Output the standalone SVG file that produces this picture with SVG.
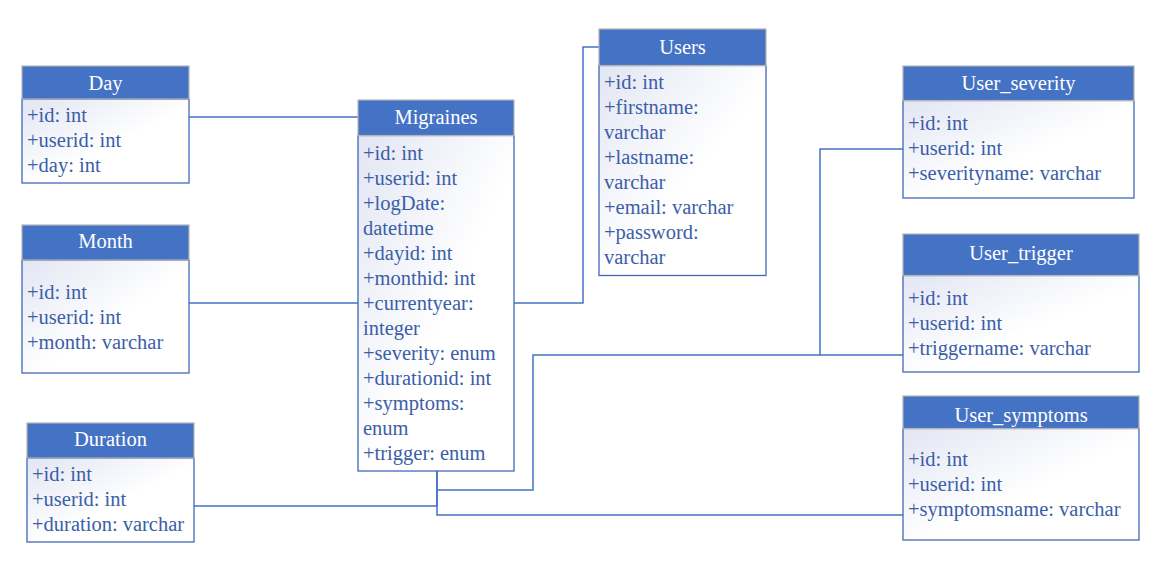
<svg xmlns="http://www.w3.org/2000/svg" width="1165" height="565" viewBox="0 0 1165 565">
<defs>
<linearGradient id="bodyGrad" x1="0" y1="0" x2="1" y2="1">
<stop offset="0" stop-color="#e2e6f3"/>
<stop offset="0.55" stop-color="#ffffff"/>
<stop offset="1" stop-color="#ffffff"/>
</linearGradient>
<style>
.hdr{fill:#4472c4;stroke:#b4b4b4;stroke-width:1.2}
.body{fill:url(#bodyGrad);stroke:#4168b8;stroke-width:1.3}
.title{font-family:"Liberation Serif","Times New Roman",serif;font-size:20.5px;fill:#ffffff;text-anchor:middle}
.attr{font-family:"Liberation Serif","Times New Roman",serif;font-size:20.5px;fill:#3b5ea8}
.conn{fill:none;stroke:#4472c4;stroke-width:1.5}
</style>
</defs>
<rect width="1165" height="565" fill="#ffffff"/>
<g id="connectors">
<path class="conn" d="M189,117 H358"/>
<path class="conn" d="M189,303 H358"/>
<path class="conn" d="M514,303 H583 V47 H599"/>
<path class="conn" d="M194,506 H437 V471"/>
<path class="conn" d="M437,471 V515 H903"/>
<path class="conn" d="M437,490 H533 V355 H903"/>
<path class="conn" d="M903,149 H820 V355"/>
</g>
<g id="day">
<rect class="body" x="22" y="99" width="167" height="84"/>
<rect class="hdr" x="22" y="66" width="167" height="33"/>
<text class="title" x="105.5" y="89.5">Day</text>
<text class="attr" x="27" y="122">+id: int</text>
<text class="attr" x="27" y="147">+userid: int</text>
<text class="attr" x="27" y="172">+day: int</text>
</g>
<g id="month">
<rect class="body" x="22" y="260" width="167" height="113"/>
<rect class="hdr" x="22" y="225" width="167" height="35"/>
<text class="title" x="105.5" y="248">Month</text>
<text class="attr" x="27" y="298.5">+id: int</text>
<text class="attr" x="27" y="323.5">+userid: int</text>
<text class="attr" x="27" y="348.5">+month: varchar</text>
</g>
<g id="duration">
<rect class="body" x="27" y="458" width="167" height="84"/>
<rect class="hdr" x="27" y="423" width="167" height="35"/>
<text class="title" x="110.5" y="446">Duration</text>
<text class="attr" x="32" y="481">+id: int</text>
<text class="attr" x="32" y="506">+userid: int</text>
<text class="attr" x="32" y="531">+duration: varchar</text>
</g>
<g id="migraines">
<rect class="body" x="358" y="135.5" width="156" height="335.5"/>
<rect class="hdr" x="358" y="100" width="156" height="35.5"/>
<text class="title" x="436" y="124">Migraines</text>
<text class="attr" x="363" y="160">+id: int</text>
<text class="attr" x="363" y="185">+userid: int</text>
<text class="attr" x="363" y="210">+logDate:</text>
<text class="attr" x="363" y="235">datetime</text>
<text class="attr" x="363" y="260">+dayid: int</text>
<text class="attr" x="363" y="285">+monthid: int</text>
<text class="attr" x="363" y="310">+currentyear:</text>
<text class="attr" x="363" y="335">integer</text>
<text class="attr" x="363" y="360">+severity: enum</text>
<text class="attr" x="363" y="385">+durationid: int</text>
<text class="attr" x="363" y="410">+symptoms:</text>
<text class="attr" x="363" y="435">enum</text>
<text class="attr" x="363" y="460">+trigger: enum</text>
</g>
<g id="users">
<rect class="body" x="599" y="65.5" width="167" height="210"/>
<rect class="hdr" x="599" y="29" width="167" height="36.5"/>
<text class="title" x="682.5" y="53.5">Users</text>
<text class="attr" x="604" y="89">+id: int</text>
<text class="attr" x="604" y="114">+firstname:</text>
<text class="attr" x="604" y="139">varchar</text>
<text class="attr" x="604" y="164">+lastname:</text>
<text class="attr" x="604" y="189">varchar</text>
<text class="attr" x="604" y="214">+email: varchar</text>
<text class="attr" x="604" y="239">+password:</text>
<text class="attr" x="604" y="264">varchar</text>
</g>
<g id="user_severity">
<rect class="body" x="903" y="100.5" width="231" height="97.5"/>
<rect class="hdr" x="903" y="66" width="231" height="34.5"/>
<text class="title" x="1018.5" y="89.5">User_severity</text>
<text class="attr" x="908" y="129.5">+id: int</text>
<text class="attr" x="908" y="154.5">+userid: int</text>
<text class="attr" x="908" y="179.5">+severityname: varchar</text>
</g>
<g id="user_trigger">
<rect class="body" x="903" y="275.5" width="236" height="96.5"/>
<rect class="hdr" x="903" y="234" width="236" height="41.5"/>
<text class="title" x="1021" y="259.5">User_trigger</text>
<text class="attr" x="908" y="305">+id: int</text>
<text class="attr" x="908" y="330">+userid: int</text>
<text class="attr" x="908" y="355">+triggername: varchar</text>
</g>
<g id="user_symptoms">
<rect class="body" x="903" y="428.5" width="236" height="111.5"/>
<rect class="hdr" x="903" y="396" width="236" height="32.5"/>
<text class="title" x="1021" y="422">User_symptoms</text>
<text class="attr" x="908" y="466">+id: int</text>
<text class="attr" x="908" y="491">+userid: int</text>
<text class="attr" x="908" y="516">+symptomsname: varchar</text>
</g>
</svg>
